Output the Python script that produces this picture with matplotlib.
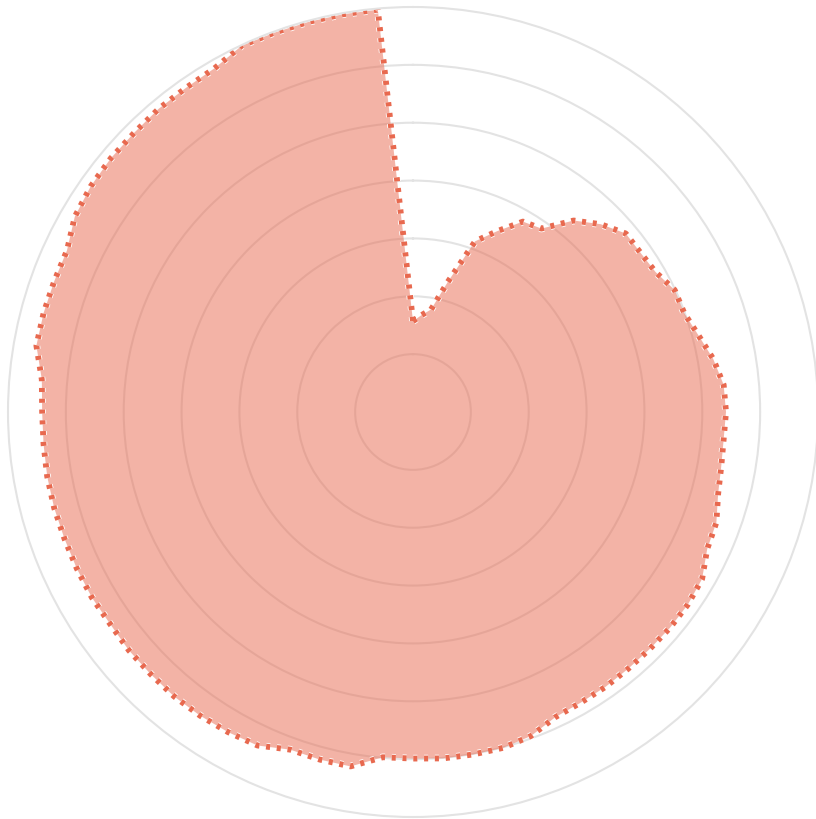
import numpy as np
import matplotlib
matplotlib.use("Agg")
import matplotlib.pyplot as plt
import matplotlib.patheffects as pe

# angle in degrees, clockwise from north, one value every 5 deg
angles_deg = list(range(0, 360, 5))
values = [
    15.7, 16.8, 18.0, 23.3, 31.4, 34.5, 38.0, 38.7, 43.2, 45.9,
    48.0, 48.0, 48.4, 49.9, 49.9, 51.1, 52.7, 53.9, 54.1, 53.9,
    54.1, 54.6, 55.8, 56.1, 57.7, 58.0, 58.0, 57.9, 57.9, 58.0,
    58.0, 58.2, 59.6, 60.1, 60.1, 60.1, 59.9, 59.9, 62.2, 62.2,
    62.1, 63.6, 63.9, 64.1, 64.2, 64.1, 64.1, 63.9, 64.1, 64.1,
    64.1, 64.2, 64.2, 64.1, 64.1, 64.4, 66.1, 66.1, 66.0, 66.0,
    67.5, 68.0, 68.2, 68.2, 68.4, 68.4, 68.6, 69.9, 69.8, 69.8,
    69.8, 69.8,
]
ring_ticks = [10, 20, 30, 40, 50, 60]
r_max = 70

line_color = "#E8694F"
grid_color = "#E3E3E3"


def main():
    theta = np.deg2rad(angles_deg + [angles_deg[0]])
    r = values + [values[0]]

    fig = plt.figure(figsize=(8.16, 8.2), dpi=100)
    ax = fig.add_axes([8 / 816, 2 / 820, 810 / 816, 810 / 820], projection="polar")
    ax.set_theta_zero_location("N")
    ax.set_theta_direction(-1)
    ax.set_axisbelow(True)

    ax.fill(theta, r, color=line_color, alpha=0.5, linewidth=0, zorder=1)
    ax.plot(theta, r, color=line_color, linewidth=4.2, linestyle=(0, (0.7, 1.15)), zorder=2,
            path_effects=[pe.Stroke(linewidth=5.4, foreground="white"), pe.Normal()])

    ax.set_ylim(0, r_max)
    ax.set_yticks(ring_ticks)
    ax.set_yticklabels([])
    ax.set_xticks([])
    ax.yaxis.grid(True, color=grid_color, linewidth=1.5)
    ax.spines["polar"].set_color(grid_color)
    ax.spines["polar"].set_linewidth(1.5)

    fig.savefig("out.png", dpi=100)


if __name__ == "__main__":
    main()
